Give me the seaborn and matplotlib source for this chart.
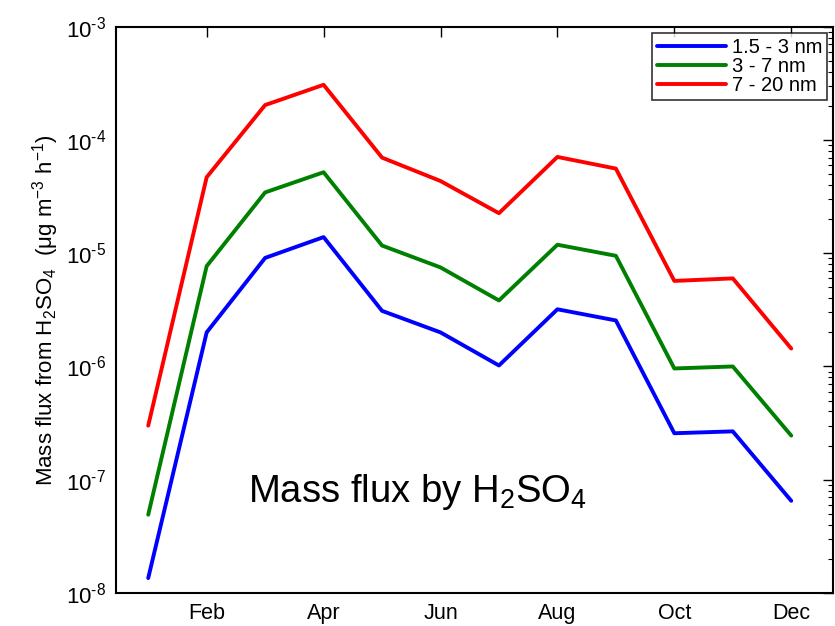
import numpy as np
import pandas as pd
import matplotlib
matplotlib.use('Agg')
import matplotlib.pyplot as plt
import seaborn as sns
from matplotlib.ticker import LogLocator, FuncFormatter

# data (monthly mass flux, ug m^-3 h^-1)
months = list(range(1, 13))
flux_1_5_3 = [1.35e-8, 2.0e-6, 9.1e-6, 1.39e-5, 3.1e-6, 2.0e-6,
              1.02e-6, 3.2e-6, 2.55e-6, 2.57e-7, 2.67e-7, 6.5e-8]
flux_3_7 = [4.9e-8, 7.7e-6, 3.45e-5, 5.2e-5, 1.17e-5, 7.5e-6,
            3.83e-6, 1.19e-5, 9.5e-6, 9.6e-7, 1.0e-6, 2.45e-7]
flux_7_20 = [3.0e-7, 4.7e-5, 2.04e-4, 3.08e-4, 7.0e-5, 4.35e-5,
             2.26e-5, 7.1e-5, 5.6e-5, 5.7e-6, 6.0e-6, 1.44e-6]
series_names = ['1.5 - 3 nm', '3 - 7 nm', '7 - 20 nm']
tick_months = [2, 4, 6, 8, 10, 12]
tick_labels = ['Feb', 'Apr', 'Jun', 'Aug', 'Oct', 'Dec']

df = pd.DataFrame({
    'month': months * 3,
    'flux': flux_1_5_3 + flux_3_7 + flux_7_20,
    'size': [series_names[0]] * 12 + [series_names[1]] * 12 + [series_names[2]] * 12,
})

sns.set_style('white', {'text.color': 'black', 'axes.labelcolor': 'black',
                        'xtick.color': 'black', 'ytick.color': 'black',
                        'axes.edgecolor': 'black'})
plt.rcParams['font.family'] = ['Liberation Sans', 'DejaVu Sans']
plt.rcParams['mathtext.fontset'] = 'custom'
plt.rcParams['mathtext.rm'] = 'Liberation Sans'
plt.rcParams['mathtext.it'] = 'Liberation Sans:italic'
plt.rcParams['mathtext.default'] = 'regular'

fig = plt.figure(figsize=(8.35, 6.26), dpi=100)
ax = fig.add_axes([0.139, 0.053, 0.859, 0.904])

palette = {'1.5 - 3 nm': (0, 0, 1), '3 - 7 nm': (0, 0.5, 0), '7 - 20 nm': (1, 0, 0)}
sns.lineplot(data=df, x='month', y='flux', hue='size', palette=palette,
             linewidth=2.8, ax=ax)

ax.set_yscale('log')
ax.set_ylim(1e-8, 1e-3)
ax.set_xlim(0.45, 12.72)
ax.set_xticks(tick_months)
ax.set_xticklabels(tick_labels)
ax.yaxis.set_major_locator(LogLocator(base=10, numticks=10))
ax.yaxis.set_minor_locator(LogLocator(base=10, subs=np.arange(2, 10), numticks=20))
ax.yaxis.set_major_formatter(FuncFormatter(
    lambda v, p: '10$^{\\text{%d}}$' % int(round(np.log10(v)))))
ax.tick_params(axis='both', which='both', direction='in', top=True, right=True,
               colors='black', labelcolor='black')
ax.tick_params(axis='x', which='major', labelsize=15.5, pad=7)
ax.tick_params(axis='y', which='major', labelsize=16, pad=7)
ax.tick_params(axis='both', which='major', length=7, width=1)
ax.tick_params(axis='y', which='minor', length=3.5, width=0.8)
for s in ax.spines.values():
    s.set_linewidth(1.5)
    s.set_color('black')

ax.set_xlabel('')
ax.set_ylabel('Mass flux from H$_2$SO$_4$  ($\\mu$g m$^{-3}$ h$^{-1}$)',
              fontsize=16, labelpad=4, color='black')

ax.text(0.184, 0.178, 'Mass flux by H$_2$SO$_4$', transform=ax.transAxes,
        fontsize=27.5, ha='left', va='center', color='black')

leg = ax.legend(title=None, loc='upper right', fontsize=14.5, frameon=True,
                fancybox=False, edgecolor='black', handlelength=3.4,
                borderaxespad=0.3, borderpad=0.25, labelspacing=0.0,
                handletextpad=0.3)
leg.get_frame().set_linewidth(1.2)
for t in leg.get_texts():
    t.set_color('black')

fig.savefig('out.png', dpi=100)
